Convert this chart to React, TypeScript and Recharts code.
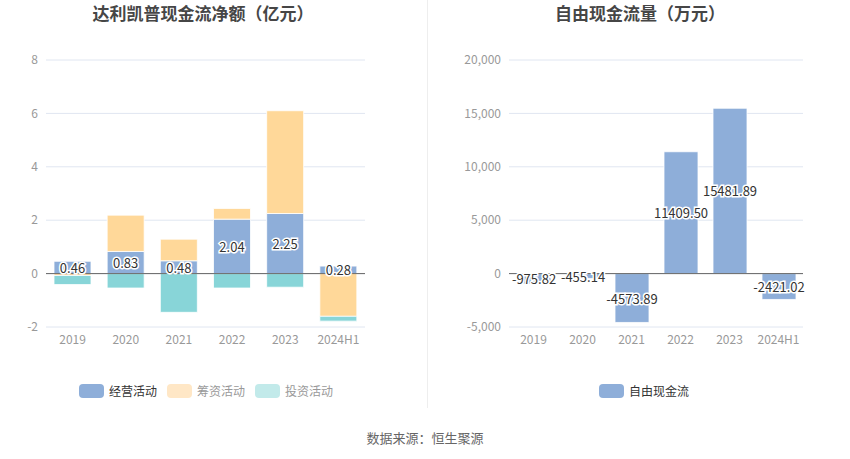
import { BarChart, Bar, XAxis, YAxis, CartesianGrid, ReferenceLine, LabelList } from "recharts";

const categories = ["2019", "2020", "2021", "2022", "2023", "2024H1"];
const operating = [0.46, 0.83, 0.48, 2.04, 2.25, 0.28];
const financing = [-0.07, 1.36, 0.81, 0.4, 3.85, -1.6];
const investing = [-0.34, -0.54, -1.45, -0.54, -0.51, -0.18];
const freeCashFlow = [-975.82, -455.14, -4573.89, 11409.5, 15481.89, -2421.02];

const leftTicks = [-2, 0, 2, 4, 6, 8];
const rightTicks = [-5000, 0, 5000, 10000, 15000, 20000];

const FONT = "'Noto Sans CJK SC', 'Noto Sans', sans-serif";
const BLUE = "#8eaed9";
const YELLOW = "#ffd899";
const CYAN = "#88d5d8";

const leftData = categories.map((c, i) => ({
  name: c,
  operating: operating[i],
  financing: financing[i],
  investing: investing[i],
}));
const rightData = categories.map((c, i) => ({ name: c, fcf: freeCashFlow[i] }));

function HaloLabel(props: any) {
  const { x, y, width, height, value, digits } = props;
  if (value == null) return null;
  return (
    <text
      x={x + width / 2}
      y={y + height / 2}
      textAnchor="middle"
      dominantBaseline="central"
      fontSize={13}
      fill="#333"
      stroke="#fff"
      strokeWidth={3}
      paintOrder="stroke"
      style={{ fontFamily: FONT }}
    >
      {Number(value).toFixed(digits)}
    </text>
  );
}

function LegendItems({ items, left, top }: { items: { label: string; color: string; text: string }[]; left: number; top: number }) {
  return (
    <div style={{ position: "absolute", left, top, display: "flex", alignItems: "center", fontSize: 12, fontFamily: FONT }}>
      {items.map((it) => (
        <div key={it.label} style={{ display: "flex", alignItems: "center", marginRight: 10 }}>
          <div style={{ width: 25, height: 14, borderRadius: 4, background: it.color, marginRight: 5 }} />
          <span style={{ color: it.text }}>{it.label}</span>
        </div>
      ))}
    </div>
  );
}

const tickStyle = { fontSize: 12, fill: "#999", fontFamily: FONT };

export default function App() {
  return (
    <div style={{ position: "absolute", left: 0, top: 0, width: 850, height: 459, background: "#fff", fontFamily: FONT }}>
      <div style={{ position: "absolute", left: 0, width: 406, top: 0, textAlign: "center", fontSize: 17, fontWeight: "bold", color: "#464646" }}>
        达利凯普现金流净额（亿元）
      </div>
      <div style={{ position: "absolute", left: 450, width: 380, top: 0, textAlign: "center", fontSize: 17, fontWeight: "bold", color: "#464646" }}>
        自由现金流量（万元）
      </div>
      <div style={{ position: "absolute", left: 427, top: 0, width: 1, height: 408, background: "#eeeeee" }} />

      <div style={{ position: "absolute", left: 0, top: 0 }}>
        <BarChart width={400} height={357} data={leftData} stackOffset="sign" margin={{ top: 60, right: 35, left: 0, bottom: 0 }}>
          <CartesianGrid vertical={false} stroke="#e0e6f1" />
          <XAxis dataKey="name" axisLine={false} tickLine={false} tickMargin={2} height={30} tick={tickStyle} interval={0} />
          <YAxis domain={[-2, 8]} ticks={leftTicks} axisLine={false} tickLine={false} width={46} tick={tickStyle} />
          <Bar dataKey="operating" stackId="a" fill={BLUE} stroke="#fff" strokeWidth={0.8} barSize={37} isAnimationActive={false}>
            <LabelList dataKey="operating" content={(p: any) => <HaloLabel {...p} digits={2} />} />
          </Bar>
          <Bar dataKey="financing" stackId="a" fill={YELLOW} stroke="#fff" strokeWidth={0.8} barSize={37} isAnimationActive={false} />
          <Bar dataKey="investing" stackId="a" fill={CYAN} stroke="#fff" strokeWidth={0.8} barSize={37} isAnimationActive={false} />
          <ReferenceLine y={0} stroke="#666" />
        </BarChart>
      </div>

      <div style={{ position: "absolute", left: 450, top: 0 }}>
        <BarChart width={400} height={357} data={rightData} margin={{ top: 60, right: 47, left: 0, bottom: 0 }}>
          <CartesianGrid vertical={false} stroke="#e0e6f1" />
          <XAxis dataKey="name" axisLine={false} tickLine={false} tickMargin={2} height={30} tick={tickStyle} interval={0} />
          <YAxis
            domain={[-5000, 20000]}
            ticks={rightTicks}
            axisLine={false}
            tickLine={false}
            width={59}
            tick={tickStyle}
            tickFormatter={(v: number) => v.toLocaleString("en-US")}
          />
          <ReferenceLine y={0} stroke="#666" />
          <Bar dataKey="fcf" fill={BLUE} stroke="#fff" strokeWidth={0.8} barSize={34} isAnimationActive={false}>
            <LabelList dataKey="fcf" content={(p: any) => <HaloLabel {...p} digits={2} />} />
          </Bar>
        </BarChart>
      </div>

      <LegendItems
        left={79}
        top={382}
        items={[
          { label: "经营活动", color: BLUE, text: "#333" },
          { label: "筹资活动", color: "#ffe7c6", text: "#999" },
          { label: "投资活动", color: "#c2eaea", text: "#999" },
        ]}
      />
      <LegendItems left={599} top={382} items={[{ label: "自由现金流", color: BLUE, text: "#333" }]} />

      <div style={{ position: "absolute", left: 0, width: 850, top: 428, textAlign: "center", fontSize: 13, color: "#666" }}>
        数据来源：恒生聚源
      </div>
    </div>
  );
}
